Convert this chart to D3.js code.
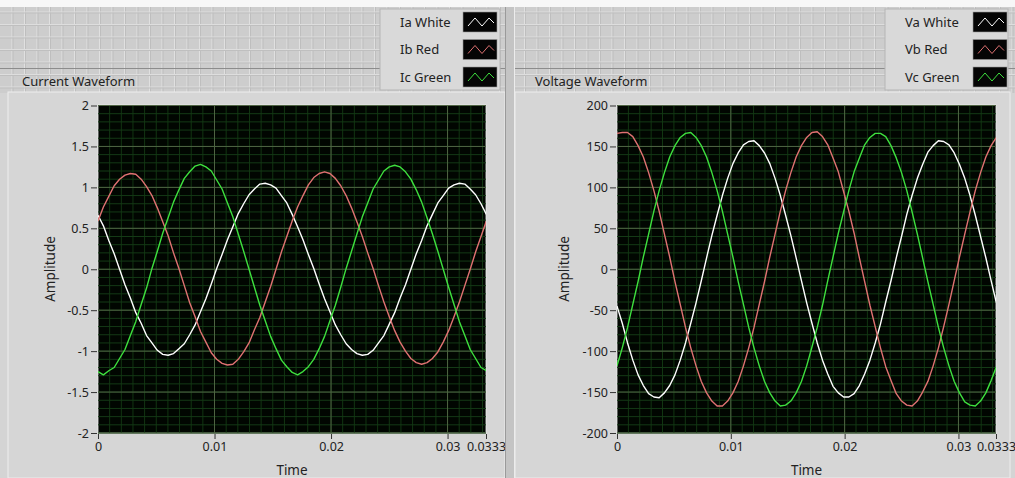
<!DOCTYPE html>
<html><head><meta charset="utf-8">
<script src="https://cdn.jsdelivr.net/npm/d3@7/dist/d3.min.js"></script>
<style>
body{margin:0;background:#d4d4d4;}
svg{display:block;}
text{font-family:"Noto Sans","Open Sans","DejaVu Sans",sans-serif;fill:#222;}
</style>
</head><body>
<svg id="c" width="1015" height="478"></svg>
<script>
// ---------- DATA ----------
const sampleInterval = 1 / 2160; // seconds between samples
const timeTicks = [0, 0.01, 0.02, 0.03, 0.0333];
const timeTickLabels = ["0", "0.01", "0.02", "0.03", "0.0333"];
const currentTicks = [-2, -1.5, -1, -0.5, 0, 0.5, 1, 1.5, 2];
const voltageTicks = [-200, -150, -100, -50, 0, 50, 100, 150, 200];
const currentLegend = ["Ia White", "Ib Red", "Ic Green"];
const voltageLegend = ["Va White", "Vb Red", "Vc Green"];

const iaWhite = [0.66,0.53,0.35,0.19,0.00,-0.19,-0.35,-0.53,-0.66,-0.81,-0.90,-0.99,-1.04,-1.05,-1.03,-0.97,-0.91,-0.80,-0.68,-0.52,-0.36,-0.18,0.01,0.18,0.36,0.52,0.68,0.80,0.91,0.98,1.04,1.05,1.03,0.99,0.90,0.81,
  0.67,0.52,0.36,0.18,0.01,-0.18,-0.36,-0.52,-0.68,-0.80,-0.91,-0.98,-1.03,-1.05,-1.04,-0.99,-0.90,-0.81,-0.67,-0.53,-0.35,-0.19,0.00,0.19,0.35,0.53,0.67,0.81,0.90,0.99,1.03,1.05,1.04,0.98,0.91,0.80,
  0.67];
const ibRed = [0.59,0.76,0.89,1.02,1.10,1.15,1.17,1.16,1.10,1.01,0.90,0.75,0.58,0.41,0.20,0.01,-0.20,-0.41,-0.58,-0.76,-0.89,-1.02,-1.10,-1.15,-1.17,-1.16,-1.10,-1.01,-0.90,-0.74,-0.59,-0.40,-0.21,0.00,0.21,0.40,
  0.59,0.76,0.90,1.03,1.12,1.17,1.19,1.17,1.11,1.02,0.90,0.75,0.58,0.40,0.20,0.01,-0.20,-0.40,-0.58,-0.75,-0.89,-1.00,-1.09,-1.14,-1.16,-1.14,-1.09,-1.01,-0.89,-0.75,-0.58,-0.40,-0.20,0.00,0.21,0.40,
  0.59];
const icGreen = [-1.25,-1.29,-1.24,-1.20,-1.09,-0.98,-0.81,-0.64,-0.43,-0.23,0.01,0.22,0.44,0.63,0.82,0.97,1.11,1.19,1.26,1.28,1.25,1.20,1.09,0.98,0.81,0.64,0.43,0.22,0.00,-0.22,-0.44,-0.63,-0.82,-0.97,-1.11,-1.19,
  -1.26,-1.29,-1.25,-1.19,-1.10,-0.97,-0.82,-0.63,-0.44,-0.22,0.01,0.22,0.43,0.64,0.81,0.98,1.09,1.20,1.25,1.27,1.25,1.19,1.10,0.97,0.82,0.63,0.43,0.22,0.00,-0.22,-0.43,-0.64,-0.81,-0.98,-1.09,-1.20,
  -1.24];

const vaWhite = [-45,-66,-90,-111,-129,-142,-152,-156,-157,-151,-142,-129,-111,-90,-66,-41,-14,14,41,66,90,111,129,142,152,156,157,151,142,129,111,90,66,41,14,-14,
  -41,-66,-90,-111,-128,-143,-151,-156,-156,-152,-142,-128,-111,-90,-67,-40,-14,14,40,67,90,111,128,143,151,157,156,152,142,128,111,90,66,40,14,-14,
  -41];
const vbRed = [166,167,167,162,151,137,118,96,71,43,15,-15,-43,-71,-96,-118,-137,-151,-161,-167,-167,-161,-151,-137,-118,-96,-71,-43,-15,15,43,71,96,118,137,151,
  161,167,168,162,152,136,119,95,71,44,14,-15,-44,-70,-96,-119,-136,-152,-161,-166,-167,-161,-150,-137,-118,-96,-70,-43,-14,15,43,70,96,118,137,151,
  161];
const vcGreen = [-118,-96,-71,-43,-15,15,43,71,96,118,137,151,161,166,167,161,151,137,118,96,71,43,15,-15,-43,-71,-96,-118,-137,-151,-161,-167,-166,-161,-151,-137,
  -118,-95,-71,-44,-14,15,44,70,96,119,136,152,161,166,166,162,151,136,118,96,70,43,14,-15,-43,-71,-96,-118,-137,-151,-162,-166,-167,-161,-151,-136,
  -119];

const seriesColors = ["#ffffff", "#e07272", "#3ee03e"];

// ---------- DRAWING ----------
const svg = d3.select("#c");
const W = 1015, H = 478;

svg.append("rect").attr("x",0).attr("y",0).attr("width",W).attr("height",H).attr("fill","#d4d4d4");
svg.append("rect").attr("x",0).attr("y",0).attr("width",W).attr("height",7).attr("fill","#f7f7f7");
const bg = svg.append("g");
bg.append("rect").attr("x",0).attr("y",7).attr("width",W).attr("height",86).attr("fill","#cdcdcd");
d3.range(12, W, 12.5).forEach(x => {
  bg.append("line").attr("x1",x).attr("x2",x).attr("y1",7).attr("y2",93).attr("stroke","#e0e0e0").attr("stroke-width",1);
  bg.append("line").attr("x1",x+1).attr("x2",x+1).attr("y1",7).attr("y2",93).attr("stroke","#bebebe").attr("stroke-width",1);
});
d3.range(12, 93, 12.5).forEach(y => {
  bg.append("line").attr("x1",0).attr("x2",W).attr("y1",y).attr("y2",y).attr("stroke","#dedede");
  bg.append("line").attr("x1",0).attr("x2",W).attr("y1",y+1).attr("y2",y+1).attr("stroke","#bfbfbf");
});
bg.append("line").attr("x1",0).attr("x2",W).attr("y1",68.5).attr("y2",68.5).attr("stroke","#8c8c8c");

function drawPanel(cfg) {
  const g = svg.append("g");
  g.append("rect").attr("x",cfg.frameX).attr("y",92).attr("width",cfg.frameW).attr("height",H-92)
    .attr("fill","#d6d6d6").attr("stroke","#ededed");
  g.append("text").attr("x",cfg.titleX).attr("y",86).attr("font-size",13).text(cfg.title);

  const x = d3.scaleLinear().domain([0, 0.0333]).range([cfg.px0, cfg.px1]);
  const y = d3.scaleLinear().domain(cfg.yDomain).range([433, 105.5]);

  g.append("rect").attr("x",cfg.px0).attr("y",105).attr("width",cfg.px1-cfg.px0).attr("height",328)
    .attr("fill","#010601").attr("stroke","#eeeeee").attr("stroke-width",0.8);

  const grid = g.append("g");
  d3.range(0.001, 0.0333, 0.001).forEach(t => {
    grid.append("line").attr("x1",x(t)).attr("x2",x(t)).attr("y1",105).attr("y2",433)
      .attr("stroke","#123612").attr("stroke-width",1);
  });
  d3.range(cfg.yDomain[0], cfg.yDomain[1] + cfg.minorStep/2, cfg.minorStep).forEach(v => {
    grid.append("line").attr("x1",cfg.px0).attr("x2",cfg.px1).attr("y1",y(v)).attr("y2",y(v))
      .attr("stroke","#143a16").attr("stroke-width",1);
  });
  cfg.yTicks.forEach(v => {
    grid.append("line").attr("x1",cfg.px0).attr("x2",cfg.px1).attr("y1",y(v)).attr("y2",y(v))
      .attr("stroke","#4f6443").attr("stroke-width",1);
  });
  timeTicks.slice(1, 4).forEach(t => {
    grid.append("line").attr("x1",x(t)).attr("x2",x(t)).attr("y1",105).attr("y2",433)
      .attr("stroke","#4f6443").attr("stroke-width",1);
  });

  const clipId = "clip" + cfg.id;
  svg.append("clipPath").attr("id", clipId).append("rect")
    .attr("x",cfg.px0).attr("y",105).attr("width",cfg.px1-cfg.px0).attr("height",328);
  const line = d3.line().x((d,i) => x(i * sampleInterval)).y(d => y(d));
  const lg = g.append("g").attr("clip-path", `url(#${clipId})`);
  cfg.series.forEach((s, k) => {
    lg.append("path").datum(s).attr("d", line).attr("fill","none")
      .attr("stroke", seriesColors[k]).attr("stroke-width",1.4).attr("stroke-linejoin","round");
  });

  const ya = g.append("g").attr("transform",`translate(${cfg.px0 - 1},0)`)
    .call(d3.axisLeft(y).tickValues(cfg.yTicks).tickSize(6).tickPadding(2).tickFormat(d => String(d)));
  const xa = g.append("g").attr("transform",`translate(0,434)`)
    .call(d3.axisBottom(x).tickValues(timeTicks).tickSize(5).tickPadding(3)
      .tickFormat((d,i) => timeTickLabels[i]));
  [ya, xa].forEach(a => {
    a.select(".domain").remove();
    a.selectAll(".tick line").attr("stroke","#333");
    a.selectAll(".tick text").attr("fill","#222").attr("font-size",12.5)
      .attr("font-family",'"Noto Sans","Open Sans","DejaVu Sans",sans-serif');
  });

  g.append("text").attr("x",(cfg.px0 + cfg.px1)/2).attr("y",475).attr("text-anchor","middle")
    .attr("font-size",13.5).text("Time");
  g.append("text").attr("transform",`translate(${cfg.ampX},269) rotate(-90)`).attr("text-anchor","middle")
    .attr("font-size",13.5).text("Amplitude");

  const lgd = svg.append("g");
  lgd.append("rect").attr("x",cfg.legX).attr("y",9).attr("width",cfg.legW).attr("height",81)
    .attr("fill","#d9d9d9").attr("stroke","#b5b5b5");
  cfg.legend.forEach((name, k) => {
    const cy = 22 + k * 27.5;
    lgd.append("text").attr("x",cfg.legTextX).attr("y",cy + 4.5).attr("font-size",13).text(name);
    const sx = cfg.swX, sy = cy - 10;
    lgd.append("rect").attr("x",sx).attr("y",sy).attr("width",34).attr("height",20).attr("fill","#050505")
      .attr("stroke","#9a9a9a").attr("stroke-width",0.6);
    lgd.append("path").attr("d", d3.line()([[sx+5,sy+14],[sx+12,sy+6],[sx+19,sy+14],[sx+26,sy+6],[sx+31,sy+11]]))
      .attr("fill","none").attr("stroke",seriesColors[k]).attr("stroke-width",1);
  });
}

drawPanel({
  id: "I", frameX: 8, frameW: 497, titleX: 22, title: "Current Waveform",
  px0: 98, px1: 486, yDomain: [-2, 2], yTicks: currentTicks, minorStep: 0.1, ampX: 55,
  series: [iaWhite, ibRed, icGreen], legend: currentLegend,
  legX: 380, legW: 120, legTextX: 400, swX: 463
});
drawPanel({
  id: "V", frameX: 515, frameW: 495, titleX: 535, title: "Voltage Waveform",
  px0: 617, px1: 996, yDomain: [-200, 200], yTicks: voltageTicks, minorStep: 10, ampX: 569,
  series: [vaWhite, vbRed, vcGreen], legend: voltageLegend,
  legX: 885, legW: 123, legTextX: 905, swX: 973
});
svg.append("rect").attr("x",505).attr("y",7).attr("width",10).attr("height",H-7).attr("fill","#c4c4c4");
svg.append("line").attr("x1",505.5).attr("x2",505.5).attr("y1",7).attr("y2",H).attr("stroke","#9a9a9a");
svg.append("line").attr("x1",514.5).attr("x2",514.5).attr("y1",7).attr("y2",H).attr("stroke","#ececec");
</script>
</body></html>
